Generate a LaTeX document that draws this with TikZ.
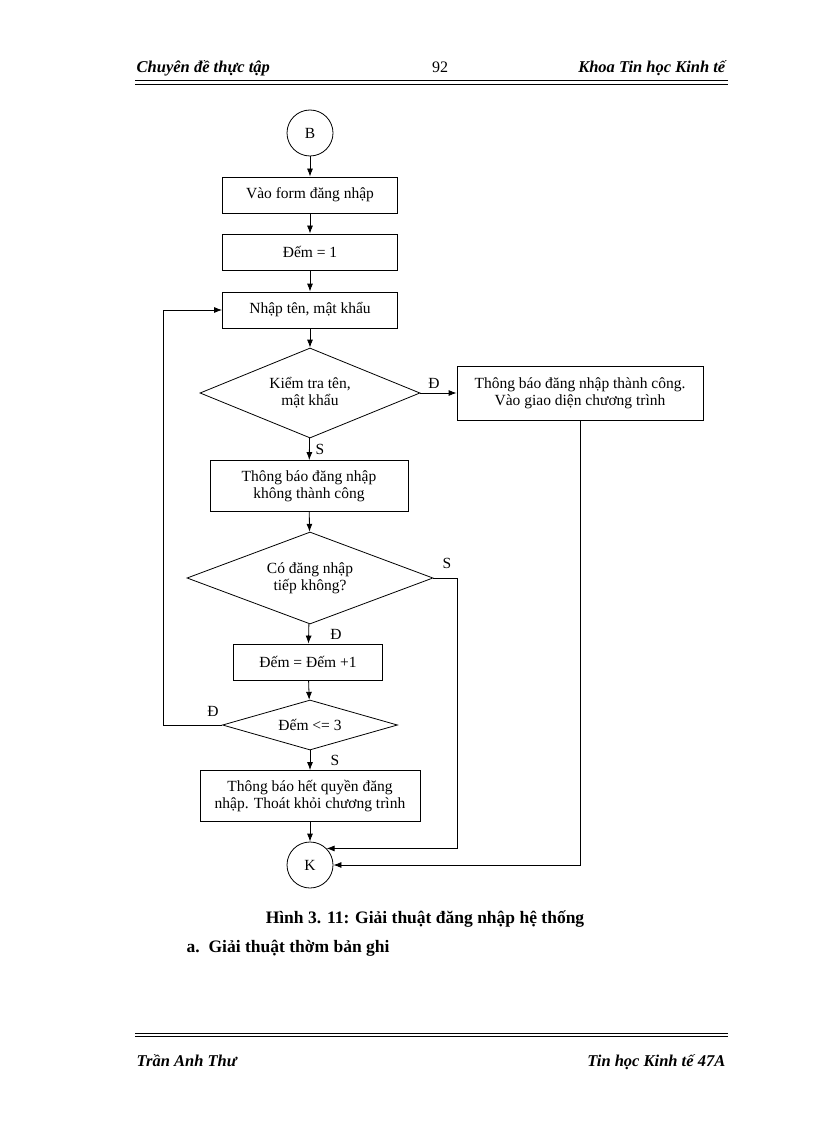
\documentclass[tikz,border=0pt]{standalone}
\usepackage{fontspec}
\setmainfont{Liberation Serif}
\usetikzlibrary{shapes.geometric,arrows.meta}
\begin{document}
\begin{tikzpicture}[x=1pt,y=-1pt,line width=0.8pt,
  fs/.style={font=\fontsize{15.5}{17}\selectfont},
  box/.style={draw,minimum height=36pt,align=center,fs},
  dia/.style={draw,diamond,aspect=2.4,inner sep=0pt,align=center,fs},
  circ/.style={draw,circle,minimum size=46pt,inner sep=0pt,fs},
  lab/.style={fs},
  arr/.style={-{Latex[length=8pt,width=6pt]}},
  hdr/.style={font=\fontsize{16.5}{18}\selectfont\bfseries\itshape}]
\useasboundingbox (0,0) rectangle (816,1123);
% header/footer
\node[hdr,anchor=base west] (h1) at (133,73) {Chuyên đề thực tập};
\node[font=\fontsize{16}{18}\selectfont,anchor=base] (h2) at (440,73) {92};
\node[hdr,anchor=base east] (h3) at (729,73) {Khoa Tin học Kinh tế};
\draw[line width=1.5pt] (135,80.5) -- (728,80.5);
\draw[line width=0.6pt] (135,84) -- (728,84);
\draw[line width=0.6pt] (135,1033) -- (728,1033);
\draw[line width=1.5pt] (135,1036.5) -- (728,1036.5);
\node[hdr,anchor=base west] (f1) at (133,1066) {Trần Anh Thư};
\node[hdr,anchor=base east] (f2) at (729,1066) {Tin học Kinh tế 47A};
% nodes
\node[circ] (B) at (310,133) {B};
\node[box,minimum width=175pt] (b1) at (310,195) {Vào form đăng nhập};
\node[box,minimum width=175pt] (b2) at (310,252) {Đếm = 1};
\node[box,minimum width=175pt] (b3) at (310,310) {Nhập tên, mật khẩu};
\node[dia,minimum width=220pt,minimum height=90pt] (d1) at (310,393) {Kiểm tra tên,\\ mật khẩu};
\node[box,minimum width=246pt,minimum height=54pt] (r) at (580,393) {Thông báo đăng nhập thành công.\\ Vào giao diện chương trình};
\node[box,minimum width=198pt,minimum height=51pt] (b4) at (309,486) {Thông báo đăng nhập\\ không thành công};
\node[dia,minimum width=246pt,minimum height=92pt] (d2) at (310,578) {Có đăng nhập\\ tiếp không?};
\node[box,minimum width=149pt] (b5) at (308,662) {Đếm = Đếm +1};
\node[dia,minimum width=175pt,minimum height=50pt] (d3) at (310,725) {Đếm <= 3};
\node[box,minimum width=220pt,minimum height=51pt] (b6) at (310,796) {Thông báo hết quyền đăng\\ nhập. Thoát khỏi chương trình};
\node[circ] (K) at (310,865) {K};
% connectors
\draw[arr] (B) -- (b1);
\draw[arr] (b1) -- (b2);
\draw[arr] (b2) -- (b3);
\draw[arr] (b3) -- (d1);
\draw[arr] (d1) -- (r);
\draw[arr] (d1) -- (b4);
\draw[arr] (b4) -- (d2);
\draw[arr] (d2) -- (b5);
\draw[arr] (b5) -- (d3);
\draw[arr] (d3) -- (b6);
\draw[arr] (b6) -- (K);
\draw[arr] (d3.west) -- (163,725) |- (b3.west);
\draw[arr] (r.south) |- (K.east);
\draw[arr] (d2.east) -- (457,578) |- (K.north east);
\node[lab] (l1) at (434,383) {Đ};
\node[lab] (l2) at (320,449) {S};
\node[lab] (l3) at (447,563) {S};
\node[lab] (l4) at (336,634) {Đ};
\node[lab] (l5) at (213,711) {Đ};
\node[lab] (l6) at (335,760) {S};
% caption
\node[font=\fontsize{17.5}{20}\selectfont\bfseries] (c1) at (425,919) {Hình 3. 11: Giải thuật đăng nhập hệ thống};
\node[font=\fontsize{17.5}{20}\selectfont\bfseries,anchor=west] (c2) at (183,948) {a.\ \ Giải thuật thờm bản ghi};
\end{tikzpicture}
\end{document}
